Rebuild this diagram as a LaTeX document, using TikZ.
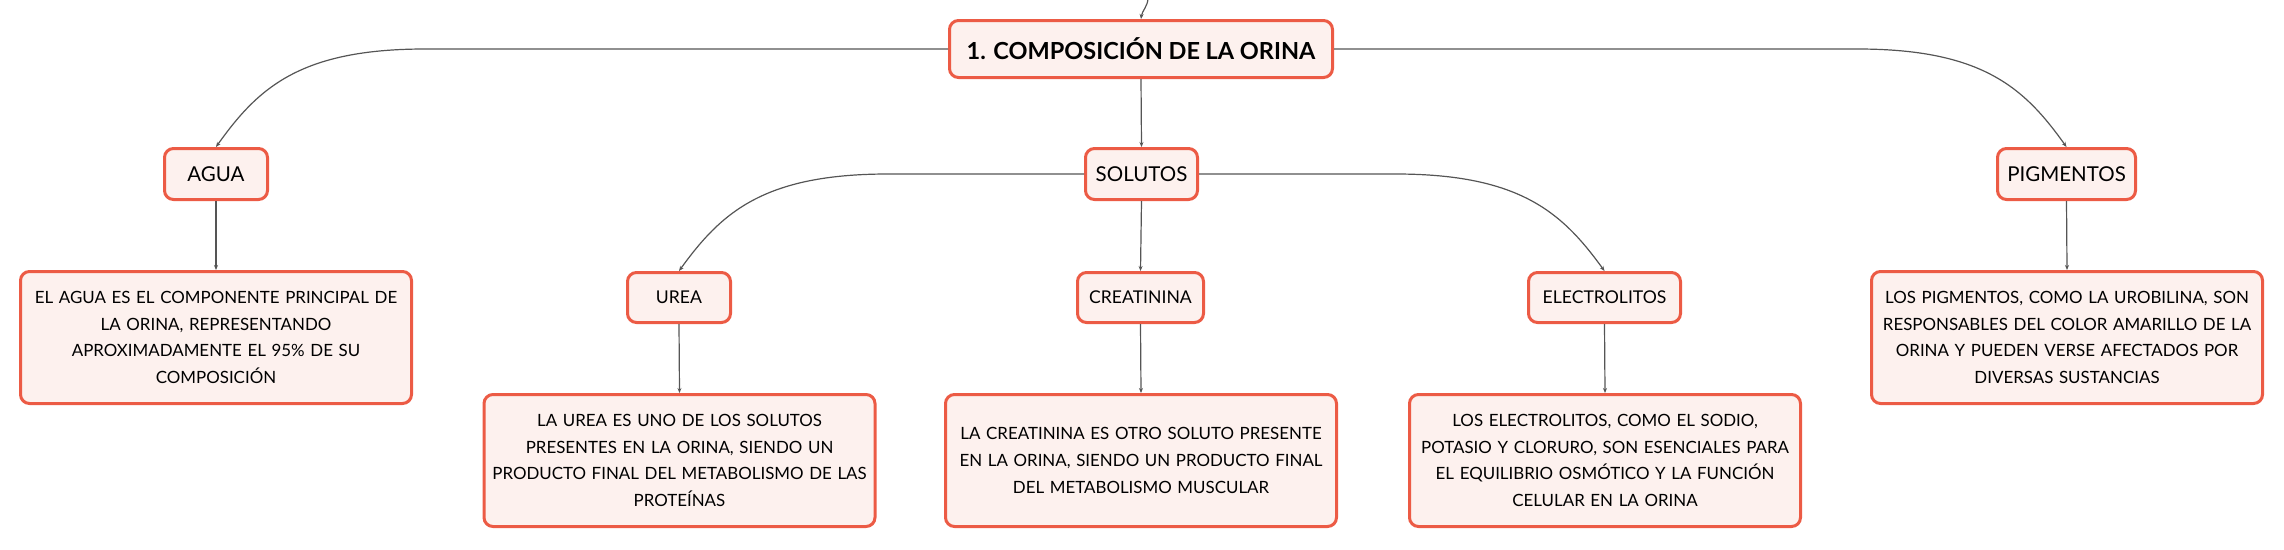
\documentclass[tikz,border=0pt]{standalone}
\usepackage{fontspec}
\setmainfont{Lato}
\usetikzlibrary{arrows.meta,calc}
\definecolor{bordc}{HTML}{EC5B45}
\definecolor{fillc}{HTML}{FDF1EE}
\definecolor{linec}{HTML}{555555}
\tikzset{
  box/.style={draw=bordc, fill=fillc, line width=3pt, rounded corners=9pt, inner sep=0pt, align=center, font=\fontsize{16.9}{26.7}\selectfont},
  lvlone/.style={box, font=\fontsize{20.5}{24}\selectfont},
  lvltwo/.style={box, font=\fontsize{17.6}{22}\selectfont},
  titlebox/.style={box, font=\fontsize{23.5}{28}\selectfont\bfseries},
  descbox/.style={box, minimum width=391pt, minimum height=132pt, text width=388pt},
  conn/.style={draw=linec, line width=1.2pt, -{Stealth[length=5pt,width=4pt]}},
}
\begin{document}
\begin{tikzpicture}[x=1pt,y=-1pt]
\useasboundingbox (0,0) rectangle (2284,549);
% nodes
\node[titlebox, minimum width=383pt, minimum height=57pt] (main) at (1141,49) {1. COMPOSICIÓN DE LA ORINA};
\node[lvlone, minimum width=103pt, minimum height=51pt] (agua) at (216,174) {AGUA};
\node[lvlone, minimum width=112pt, minimum height=51pt] (solutos) at (1141.5,174) {SOLUTOS};
\node[lvlone, minimum width=138pt, minimum height=51pt] (pigm) at (2066.5,174) {PIGMENTOS};
\node[descbox] (aguad) at (216,337.5) {EL AGUA ES EL COMPONENTE PRINCIPAL DE\\LA ORINA, REPRESENTANDO\\APROXIMADAMENTE EL 95\% DE SU\\COMPOSICIÓN};
\node[descbox] (pigmd) at (2067,337.5) {LOS PIGMENTOS, COMO LA UROBILINA, SON\\RESPONSABLES DEL COLOR AMARILLO DE LA\\ORINA Y PUEDEN VERSE AFECTADOS POR\\DIVERSAS SUSTANCIAS};
\node[lvltwo, minimum width=103pt, minimum height=50pt] (urea) at (679,297.5) {UREA};
\node[lvltwo, minimum width=126pt, minimum height=50pt] (creat) at (1140.5,297.5) {CREATININA};
\node[lvltwo, minimum width=152pt, minimum height=50pt] (electro) at (1604.5,297.5) {ELECTROLITOS};
\node[descbox] (uread) at (679.5,460.5) {LA UREA ES UNO DE LOS SOLUTOS\\PRESENTES EN LA ORINA, SIENDO UN\\PRODUCTO FINAL DEL METABOLISMO DE LAS\\PROTEÍNAS};
\node[descbox] (creatd) at (1141,460.5) {LA CREATININA ES OTRO SOLUTO PRESENTE\\EN LA ORINA, SIENDO UN PRODUCTO FINAL\\DEL METABOLISMO MUSCULAR};
\node[descbox] (electrod) at (1605,460.5) {LOS ELECTROLITOS, COMO EL SODIO,\\POTASIO Y CLORURO, SON ESENCIALES PARA\\EL EQUILIBRIO OSMÓTICO Y LA FUNCIÓN\\CELULAR EN LA ORINA};
% incoming connector from above
\coordinate (topin) at (1148,-2);
\draw[conn] (topin) .. controls +(0,8) and +(1,-8) .. (main.north);
% main connectors
\draw[conn] (main.south) -- (solutos.north);
\draw[conn] (main.west) -- ([xshift=209pt]agua.north |- main.west) .. controls +(-125,0) and +(42,-59) .. (agua.north);
\draw[conn] (main.east) -- ([xshift=-209pt]pigm.north |- main.east) .. controls +(125,0) and +(-42,-59) .. (pigm.north);
\draw[conn] (solutos.west) -- ([xshift=209pt]urea.north |- solutos.west) .. controls +(-125,0) and +(42,-58) .. (urea.north);
\draw[conn] (solutos.east) -- ([xshift=-209pt]electro.north |- solutos.east) .. controls +(125,0) and +(-42,-58) .. (electro.north);
\draw[conn] (solutos.south) -- (creat.north);
\draw[conn] (agua.south) -- (aguad.north);
\draw[conn] (pigm.south) -- (pigmd.north);
\draw[conn] (urea.south) -- (uread.north);
\draw[conn] (creat.south) -- (creatd.north);
\draw[conn] (electro.south) -- (electrod.north);
\end{tikzpicture}
\end{document}
